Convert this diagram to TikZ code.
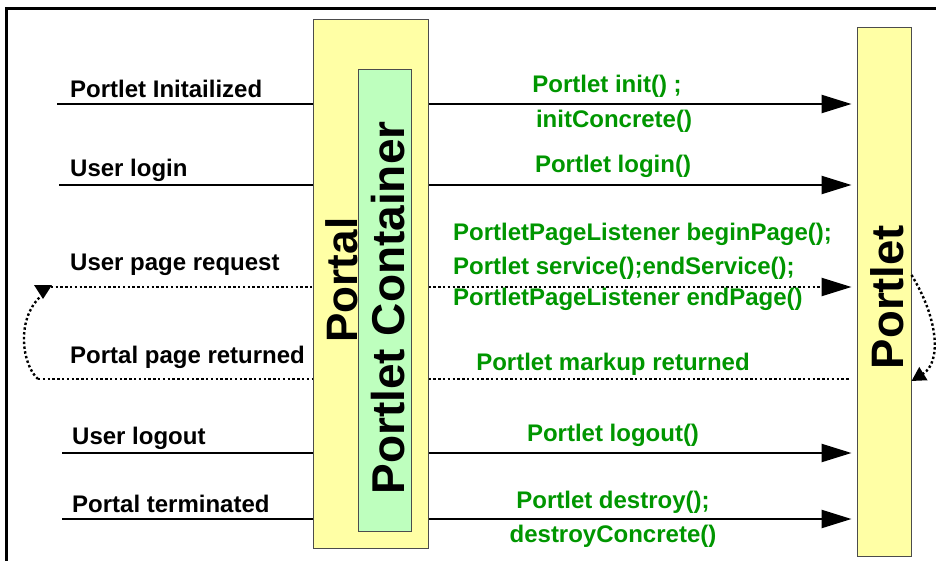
\documentclass[tikz,border=0pt]{standalone}
\usepackage{fontspec}
\setmainfont{Liberation Sans}
\usetikzlibrary{arrows.meta}
\definecolor{boxyellow}{RGB}{255,255,165}
\definecolor{boxgreen}{RGB}{190,255,190}
\definecolor{txtgreen}{RGB}{0,150,0}
\tikzset{
  frameline/.style={line width=3pt, line cap=rect},
  container/.style={draw=black!70, line width=1pt, inner sep=0pt},
  evtlabel/.style={font=\bfseries\fontsize{24}{27}\selectfont, anchor=west, inner sep=0pt},
  calllabel/.style={font=\bfseries\fontsize{24}{27}\selectfont, text=txtgreen, inner sep=0pt},
  solidline/.style={line width=2.4pt},
  dotline/.style={line width=2.4pt, dash pattern=on 2.4pt off 2.4pt},
  arr/.style={-{Triangle[length=30pt,width=18pt]}},
  bigtxt/.style={font=\bfseries\fontsize{#1}{#1}\selectfont, rotate=90, inner sep=0pt},
}
\begin{document}
\begin{tikzpicture}[x=1pt,y=-1pt]
\useasboundingbox (0,0) rectangle (936,561);
% frame
\draw[frameline] (940,9) -- (6,9) -- (6,570);

% coordinates of left line starts
\coordinate (s1) at (57,104);
\coordinate (s2) at (59,185);
\coordinate (s3) at (46,287);
\coordinate (s4) at (38,379);
\coordinate (s5) at (62,453);
\coordinate (s6) at (62,519);

% boxes
\path (370.5,284) node[container, fill=boxyellow, minimum width=115pt, minimum height=528pt] (portal) {};
\path (884,292) node[container, fill=boxyellow, minimum width=54pt, minimum height=528pt] (portlet) {};

% lines left of portal
\draw[solidline] (s1) -- (s1 -| portal.west);
\draw[solidline] (s2) -- (s2 -| portal.west);
\draw[dotline] (s3) -- (s3 -| portal.west);
\draw[dotline] (s4) -- (s4 -| portal.west);
\draw[solidline] (s5) -- (s5 -| portal.west);
\draw[solidline] (s6) -- (s6 -| portal.west);

% arrows right of portal
\draw[solidline, arr] (s1 -| portal.east) -- ([xshift=-5pt]s1 -| portlet.west);
\draw[solidline, arr] (s2 -| portal.east) -- ([xshift=-5pt]s2 -| portlet.west);
\draw[dotline, arr] (s3 -| portal.east) -- ([xshift=-5pt]s3 -| portlet.west);
\draw[dotline] (s4 -| portal.east) -- ([xshift=-7pt]s4 -| portlet.west);
\draw[solidline, arr] (s5 -| portal.east) -- ([xshift=-5pt]s5 -| portlet.west);
\draw[solidline, arr] (s6 -| portal.east) -- ([xshift=-5pt]s6 -| portlet.west);

% redraw boxes on top
\node[container, fill=boxyellow, minimum width=115pt, minimum height=528pt] at (portal.center) {};
\node[container, fill=boxyellow, minimum width=54pt, minimum height=528pt] at (portlet.center) {};
\node[container, fill=boxgreen, minimum width=53pt, minimum height=461pt] (pc) at (384.5,300.5) {};

% loop-back curves
\coordinate (lt) at (40,297);
\draw[dotline] (s4) .. controls (22,365) and (16,320) .. (lt);
\fill (34,285) -- (52,285) -- (43,299) -- cycle;
\coordinate (rt) at ([yshift=12pt]portlet.east |- s3);
\coordinate (rb) at ([yshift=-2pt]portlet.east |- s4);
\draw[dotline, -{Triangle[length=14pt,width=15pt]}] (rt) .. controls (938,318) and (942,362) .. (rb);

% vertical titles
\node[bigtxt=44] (portaltxt) at (342,280) {Portal};
\node[bigtxt=46] (pctxt) at (388,308) {Portlet Container};
\node[bigtxt=45.5] (portlettxt) at (887,297) {Portlet};

% event labels
\node[evtlabel] (e1) at (70,89) {Portlet Initailized};
\node[evtlabel] (e2) at (70,170) {User login};
\node[evtlabel] (e3) at (70,265) {User page request};
\node[evtlabel] (e4) at (70,357) {Portal page returned};
\node[evtlabel] (e5) at (72,438) {User logout};
\node[evtlabel] (e6) at (72,504) {Portal terminated};

% call labels
\node[calllabel] (c1a) at (607,86) {Portlet init() ;};
\node[calllabel] (c1b) at (614,121) {initConcrete()};
\node[calllabel] (c2) at (613,166) {Portlet login()};
\node[calllabel, anchor=west] (c3a) at (453,234) {PortletPageListener beginPage();};
\node[calllabel, anchor=west] (c3b) at (453,268) {Portlet service();endService();};
\node[calllabel, anchor=west] (c3c) at (453,299) {PortletPageListener endPage()};
\node[calllabel] (c4) at (613,364) {Portlet markup returned};
\node[calllabel] (c5) at (613,435) {Portlet logout()};
\node[calllabel] (c6a) at (613,502) {Portlet destroy();};
\node[calllabel] (c6b) at (613,536) {destroyConcrete()};
\end{tikzpicture}
\end{document}
